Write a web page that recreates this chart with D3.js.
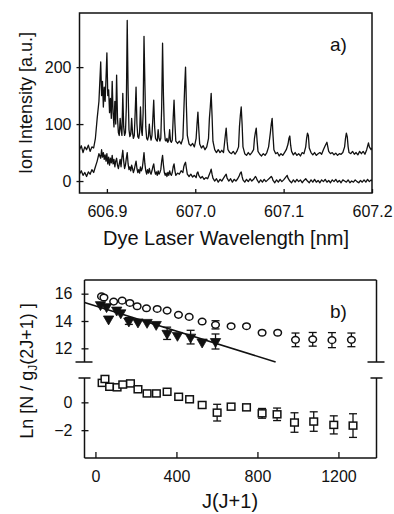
<!DOCTYPE html>
<html><head><meta charset="utf-8">
<script src="https://cdn.jsdelivr.net/npm/d3@7"></script>
<style>
html,body{margin:0;padding:0;background:#fff;}
svg{display:block;font-family:"Liberation Sans",Arial,Helvetica,sans-serif;}
</style></head>
<body>
<svg id="c" width="394" height="514"></svg>
<script>
// ---------- Panel a data: [wavelength nm, ion intensity a.u.] ----------
const upperTrace = [[606.869,55],[606.871,62],[606.873,50],[606.875,60],[606.877,55],[606.879,63],[606.881,52],[606.883,60],[606.885,58],
[606.887,75],[606.889,110],[606.891,140],[606.893,209],[606.894,150],[606.895,175],[606.896,130],[606.897,165],[606.898,140],[606.899,180],[606.900,225],[606.901,150],[606.902,160],[606.903,120],[606.904,145],[606.905,110],[606.906,175],[606.907,120],[606.908,95],[606.909,140],[606.910,100],[606.911,186],[606.912,110],[606.913,85],[606.914,80],[606.915,110],[606.916,90],[606.917,80],[606.918,154],[606.919,95],[606.920,80],[606.921,85],[606.922,130],[606.923,282],[606.924,160],[606.925,90],[606.926,78],[606.927,82],[606.928,110],[606.929,85],[606.930,75],[606.931,80],[606.932,120],[606.933,165],[606.934,100],[606.935,78],[606.936,75],[606.937,85],[606.938,130],[606.939,90],[606.940,80],[606.941,120],[606.942,254],[606.943,170],[606.944,95],[606.945,75],[606.946,72],[606.947,78],[606.948,100],[606.949,80],[606.950,72],[606.951,80],[606.952,110],[606.953,142],[606.954,95],[606.955,75],[606.956,72],[606.957,70],[606.958,90],[606.959,75],[606.960,70],[606.961,75],[606.962,130],[606.963,242],[606.964,150],[606.965,90],[606.966,72],[606.967,70],[606.968,75],[606.969,68],[606.970,72],[606.971,90],[606.972,70],[606.973,68],[606.974,72],[606.975,110],[606.976,142],[606.977,100],[606.978,70],[606.980,66],[606.982,70],[606.984,65],[606.986,75],[606.987,120],[606.988,165],[606.989,200],[606.990,130],[606.991,80],[606.993,65],[606.995,62],[606.997,66],[606.999,60],[607.001,75],[607.002,100],[607.003,121],[607.004,90],[607.005,65],[607.007,58],[607.009,62],[607.011,55],[607.013,60],[607.015,75],[607.016,110],[607.017,130],[607.018,154],[607.019,115],[607.020,70],[607.022,55],[607.024,50],[607.026,55],[607.028,50],[607.030,54],[607.032,50],[607.033,65],[607.034,80],[607.035,93],[607.036,70],[607.037,55],[607.039,50],[607.041,48],[607.043,52],[607.045,47],[607.047,52],[607.049,60],[607.050,95],[607.051,115],[607.052,130],[607.053,100],[607.054,60],[607.056,48],[607.058,45],[607.060,50],[607.062,46],[607.064,50],[607.066,55],[607.067,75],[607.068,85],[607.069,93],[607.070,70],[607.071,52],[607.073,47],[607.075,44],[607.077,48],[607.079,45],[607.081,50],[607.083,60],[607.085,85],[607.086,100],[607.087,110],[607.088,80],[607.089,55],[607.091,48],[607.093,50],[607.095,44],[607.097,48],[607.099,45],[607.101,50],[607.103,55],[607.105,65],[607.106,75],[607.107,79],[607.108,62],[607.109,52],[607.111,46],[607.113,50],[607.115,45],[607.117,48],[607.119,44],[607.121,50],[607.123,48],[607.125,60],[607.126,75],[607.127,84],[607.128,80],[607.129,58],[607.131,50],[607.133,46],[607.135,50],[607.137,45],[607.139,48],[607.141,50],[607.143,47],[607.145,55],[607.147,62],[607.149,68],[607.150,60],[607.151,52],[607.153,48],[607.155,50],[607.157,46],[607.159,49],[607.161,45],[607.163,48],[607.165,47],[607.167,50],[607.169,60],[607.170,75],[607.171,84],[607.172,78],[607.173,60],[607.174,50],[607.176,48],[607.178,52],[607.180,47],[607.182,50],[607.184,46],[607.186,52],[607.188,48],[607.190,52],[607.192,47],[607.194,55],[607.196,67],[607.197,60],[607.199,55],[607.200,58]];

const lowerTrace = [[606.869,12],[606.871,18],[606.873,10],[606.875,15],[606.877,8],[606.879,16],[606.881,12],[606.883,20],[606.885,15],[606.887,25],[606.889,35],[606.891,48],[606.893,40],[606.894,55],[606.895,42],[606.896,50],[606.897,38],[606.898,46],[606.899,35],[606.900,48],[606.901,30],[606.902,42],[606.903,28],[606.904,40],[606.905,32],[606.906,45],[606.907,30],[606.908,38],[606.909,25],[606.910,35],[606.911,40],[606.912,28],[606.913,22],[606.914,30],[606.915,38],[606.916,25],[606.917,42],[606.918,54],[606.919,35],[606.920,22],[606.921,28],[606.922,40],[606.923,50],[606.924,30],[606.925,20],[606.926,25],[606.927,18],[606.928,28],[606.929,22],[606.930,15],[606.931,20],[606.932,28],[606.933,35],[606.934,22],[606.935,15],[606.936,20],[606.937,14],[606.938,25],[606.939,18],[606.940,22],[606.941,35],[606.942,50],[606.943,30],[606.944,18],[606.945,12],[606.946,20],[606.947,14],[606.948,22],[606.949,15],[606.950,12],[606.951,18],[606.952,25],[606.953,30],[606.954,18],[606.955,12],[606.956,16],[606.957,10],[606.958,18],[606.959,12],[606.960,15],[606.961,20],[606.962,35],[606.963,45],[606.964,28],[606.965,15],[606.966,10],[606.967,14],[606.968,8],[606.969,15],[606.970,10],[606.971,18],[606.972,12],[606.973,10],[606.974,15],[606.975,25],[606.976,30],[606.977,18],[606.978,10],[606.980,14],[606.982,12],[606.984,18],[606.986,15],[606.987,25],[606.988,30],[606.989,33],[606.990,22],[606.991,12],[606.993,8],[606.995,12],[606.997,7],[606.999,10],[607.001,6],[607.002,14],[607.003,16],[607.004,10],[607.006,5],[607.008,8],[607.010,3],[607.012,6],[607.014,4],[607.016,12],[607.017,16],[607.018,21],[607.019,12],[607.020,5],[607.022,0],[607.024,4],[607.026,-2],[607.028,3],[607.030,0],[607.032,5],[607.034,10],[607.035,12],[607.036,5],[607.038,0],[607.040,4],[607.042,-2],[607.044,3],[607.046,0],[607.048,4],[607.050,10],[607.051,14],[607.052,16],[607.053,8],[607.054,2],[607.056,-2],[607.058,3],[607.060,-1],[607.062,4],[607.064,0],[607.066,3],[607.068,8],[607.069,6],[607.070,2],[607.072,-3],[607.074,2],[607.076,-2],[607.078,3],[607.080,-1],[607.082,2],[607.084,5],[607.086,8],[607.087,6],[607.088,1],[607.090,-3],[607.092,2],[607.094,-2],[607.096,3],[607.098,-1],[607.100,2],[607.102,6],[607.104,10],[607.105,5],[607.107,0],[607.109,-3],[607.111,2],[607.113,-2],[607.115,3],[607.117,-1],[607.119,2],[607.121,-3],[607.123,1],[607.125,4],[607.127,0],[607.129,-3],[607.131,2],[607.133,-2],[607.135,3],[607.137,-2],[607.139,1],[607.141,-3],[607.143,2],[607.145,-1],[607.147,3],[607.149,-2],[607.151,1],[607.153,-3],[607.155,2],[607.157,-1],[607.159,3],[607.161,-2],[607.163,1],[607.165,-3],[607.167,2],[607.169,0],[607.171,-2],[607.173,2],[607.175,-3],[607.177,0],[607.179,-2],[607.181,2],[607.183,-1],[607.185,-3],[607.187,1],[607.189,-2],[607.191,2],[607.193,-2],[607.195,3],[607.197,-1],[607.199,2],[607.200,0]];

const aXTicks = [606.9, 607.0, 607.1, 607.2];
const aXTickLabels = ["606.9", "607.0", "607.1", "607.2"];
const aYTicks = [0, 100, 200];

// ---------- Panel b data: J(J+1), Ln[N/gJ(2J+1)], error ----------
const circleX   = [30, 42, 90, 132, 170, 206, 252, 305, 354, 410, 463, 527, 593, 670, 746, 823, 900, 988, 1073, 1168, 1264];
const circleY   = [15.8, 15.72, 15.42, 15.49, 15.32, 15.08, 14.93, 14.88, 14.76, 14.45, 14.3, 13.96, 13.72, 13.62, 13.62, 13.14, 13.14, 12.62, 12.66, 12.6, 12.62];
const circleErr = [0, 0, 0, 0, 0, 0, 0, 0, 0, 0, 0, 0, 0.3, 0, 0, 0, 0, 0.5, 0.5, 0.55, 0.5];

const triX   = [25, 55, 65, 105, 125, 165, 210, 255, 300, 354, 405, 470, 527, 593];
const triY   = [15.2, 15.05, 14.15, 14.8, 14.6, 14.0, 13.93, 13.9, 13.75, 13.1, 12.95, 12.82, 12.46, 12.5];
const triErr = [0, 0, 0, 0, 0, 0.25, 0, 0, 0, 0.45, 0, 0.5, 0, 0.55];

const fitX = [-54, 890];
const fitY = [15.35, 11.0];

const squareX   = [33, 47, 70, 107, 135, 173, 210, 255, 301, 354, 411, 465, 527, 601, 670, 746, 823, 897, 983, 1078, 1177, 1272];
const squareY   = [1.4, 1.68, 1.12, 1.08, 1.28, 1.36, 0.94, 0.64, 0.64, 0.76, 0.4, 0.22, -0.19, -0.74, -0.31, -0.36, -0.79, -0.86, -1.45, -1.38, -1.62, -1.67];
const squareErr = [0, 0, 0, 0, 0, 0, 0, 0, 0, 0, 0, 0, 0, 0.6, 0, 0, 0.35, 0.45, 0.7, 0.7, 0.65, 0.85];

const bXTicks = [0, 400, 800, 1200];
const bUpperTicks = [12, 14, 16];
const bLowerTicks = [-2, 0];

// ---------- drawing ----------
const svg = d3.select("#c");
const ink = "#111";
const fmtInt = d3.format("d");

// ===== Panel a =====
const ax = d3.scaleLinear().domain([606.869, 607.2]).range([79.5, 372]);
const ay = d3.scaleLinear().domain([-21, 295]).range([193, 13]);

svg.append("clipPath").attr("id","clipA").append("rect")
  .attr("x",79.5).attr("y",13).attr("width",292.5).attr("height",180);

const lineA = d3.line().x(d => ax(d[0])).y(d => ay(d[1]));
const gA = svg.append("g").attr("clip-path","url(#clipA)");
[upperTrace, lowerTrace].forEach(tr => {
  gA.append("path").attr("d", lineA(tr)).attr("fill","none")
    .attr("stroke", ink).attr("stroke-width",1.3).attr("stroke-linejoin","round");
});

svg.append("rect").attr("x",79.5).attr("y",13).attr("width",292.5).attr("height",180)
  .attr("fill","none").attr("stroke",ink).attr("stroke-width",1.5);

const axB = svg.append("g").attr("transform","translate(0,193)")
  .call(d3.axisBottom(ax).tickValues(aXTicks).tickSize(-4).tickFormat((d,i)=>aXTickLabels[i]));
axB.select(".domain").remove();
axB.selectAll("line").attr("stroke",ink).attr("stroke-width",1.3);
axB.selectAll("text").attr("font-size",16).attr("fill",ink).attr("dy",null).attr("y",24);

const axL = svg.append("g").attr("transform","translate(79.5,0)")
  .call(d3.axisLeft(ay).tickValues(aYTicks).tickSize(4).tickFormat(fmtInt));
axL.select(".domain").remove();
axL.selectAll("line").attr("stroke",ink).attr("stroke-width",1.3).attr("x2",4).attr("x1",-3);
axL.selectAll("text").attr("font-size",16).attr("fill",ink).attr("x",-8);

svg.append("text").attr("x",226).attr("y",245).attr("text-anchor","middle")
  .attr("font-size",20).attr("fill",ink).text("Dye Laser Wavelength [nm]");
svg.append("text").attr("transform","translate(32,103) rotate(-90)").attr("text-anchor","middle")
  .attr("font-size",18).attr("fill",ink).text("Ion Intensity [a.u.]");
svg.append("text").attr("x",330).attr("y",51).attr("font-size",19).attr("fill",ink).text("a)");

// ===== Panel b =====
const bx  = d3.scaleLinear().domain([-54, 1388]).range([84.5, 376.5]);
const byU = d3.scaleLinear().domain([11, 17]).range([362, 280]);
const byL = d3.scaleLinear().domain([-4, 1.75]).range([458, 378]);
const L = 84.5, R = 376.5;

// frame with broken axis
const fr = svg.append("g").attr("stroke",ink).attr("stroke-width",1.5).attr("fill","none");
fr.append("line").attr("x1",L).attr("x2",R).attr("y1",280).attr("y2",280);
fr.append("line").attr("x1",L).attr("x2",R).attr("y1",458).attr("y2",458);
[L, R].forEach(x => {
  fr.append("line").attr("x1",x).attr("x2",x).attr("y1",280).attr("y2",362);
  fr.append("line").attr("x1",x).attr("x2",x).attr("y1",378).attr("y2",458);
  fr.append("line").attr("x1",x-9).attr("x2",x+8).attr("y1",362).attr("y2",362);
  fr.append("line").attr("x1",x-6).attr("x2",x+6).attr("y1",378).attr("y2",378);
});

// axes ticks
const bAxisX = svg.append("g").attr("transform","translate(0,458)")
  .call(d3.axisBottom(bx).tickValues(bXTicks).tickSize(-6).tickFormat(fmtInt));
bAxisX.select(".domain").remove();
bAxisX.selectAll("line").attr("stroke",ink).attr("stroke-width",1.3);
bAxisX.selectAll("text").attr("font-size",16).attr("fill",ink).attr("dy",null).attr("y",24);

[[byU, bUpperTicks],[byL, bLowerTicks]].forEach(([sc, tv]) => {
  const g = svg.append("g").attr("transform",`translate(${L},0)`)
    .call(d3.axisLeft(sc).tickValues(tv).tickSize(4).tickFormat(fmtInt));
  g.select(".domain").remove();
  g.selectAll("line").attr("stroke",ink).attr("stroke-width",1.3).attr("x1",-3).attr("x2",4);
  g.selectAll("text").attr("font-size",16).attr("fill",ink).attr("x",-12);
});

// fit line
svg.append("line").attr("x1",bx(fitX[0])).attr("y1",byU(fitY[0]))
  .attr("x2",bx(fitX[1])).attr("y2",byU(fitY[1]))
  .attr("stroke",ink).attr("stroke-width",1.6);

function errBars(xs, ys, es, sc, half) {
  const g = svg.append("g").attr("stroke",ink).attr("stroke-width",1.3);
  xs.forEach((x,i) => {
    if (!es[i]) return;
    const cx = bx(x), y1 = sc(ys[i]-es[i]), y2 = sc(ys[i]+es[i]);
    g.append("line").attr("x1",cx).attr("x2",cx).attr("y1",y1).attr("y2",y2);
    g.append("line").attr("x1",cx-half).attr("x2",cx+half).attr("y1",y1).attr("y2",y1);
    g.append("line").attr("x1",cx-half).attr("x2",cx+half).attr("y1",y2).attr("y2",y2);
  });
}
errBars(circleX, circleY, circleErr, byU, 4);
errBars(triX, triY, triErr, byU, 4);
errBars(squareX, squareY, squareErr, byL, 4);

// circles
svg.append("g").selectAll("ellipse").data(circleX).join("ellipse")
  .attr("cx",(d)=>bx(d)).attr("cy",(d,i)=>byU(circleY[i]))
  .attr("rx",3.8).attr("ry",3.3).attr("fill","#fff").attr("stroke",ink).attr("stroke-width",1.5);

// triangles (filled, pointing down)
const triSym = d3.symbol().type(d3.symbolTriangle).size(46);
svg.append("g").selectAll("path").data(triX).join("path")
  .attr("d", triSym)
  .attr("transform",(d,i)=>`translate(${bx(d)},${byU(triY[i])}) rotate(180)`)
  .attr("fill",ink).attr("stroke",ink).attr("stroke-width",0.8);

// squares
svg.append("g").selectAll("rect").data(squareX).join("rect")
  .attr("x",(d)=>bx(d)-3.8).attr("y",(d,i)=>byL(squareY[i])-3.5)
  .attr("width",7.6).attr("height",7).attr("fill","#fff").attr("stroke",ink).attr("stroke-width",1.5);

// labels
svg.append("text").attr("x",330).attr("y",318).attr("font-size",19).attr("fill",ink).text("b)");
svg.append("text").attr("x",230).attr("y",508).attr("text-anchor","middle")
  .attr("font-size",20).attr("fill",ink).text("J(J+1)");
const yt = svg.append("text").attr("transform","translate(33,371) rotate(-90)").attr("text-anchor","middle")
  .attr("font-size",18).attr("fill",ink);
yt.append("tspan").text("Ln [N / g");
yt.append("tspan").attr("font-size",12).attr("dy",4).text("J");
yt.append("tspan").attr("dy",-4).text("(2J+1) ]");
</script>
</body></html>
